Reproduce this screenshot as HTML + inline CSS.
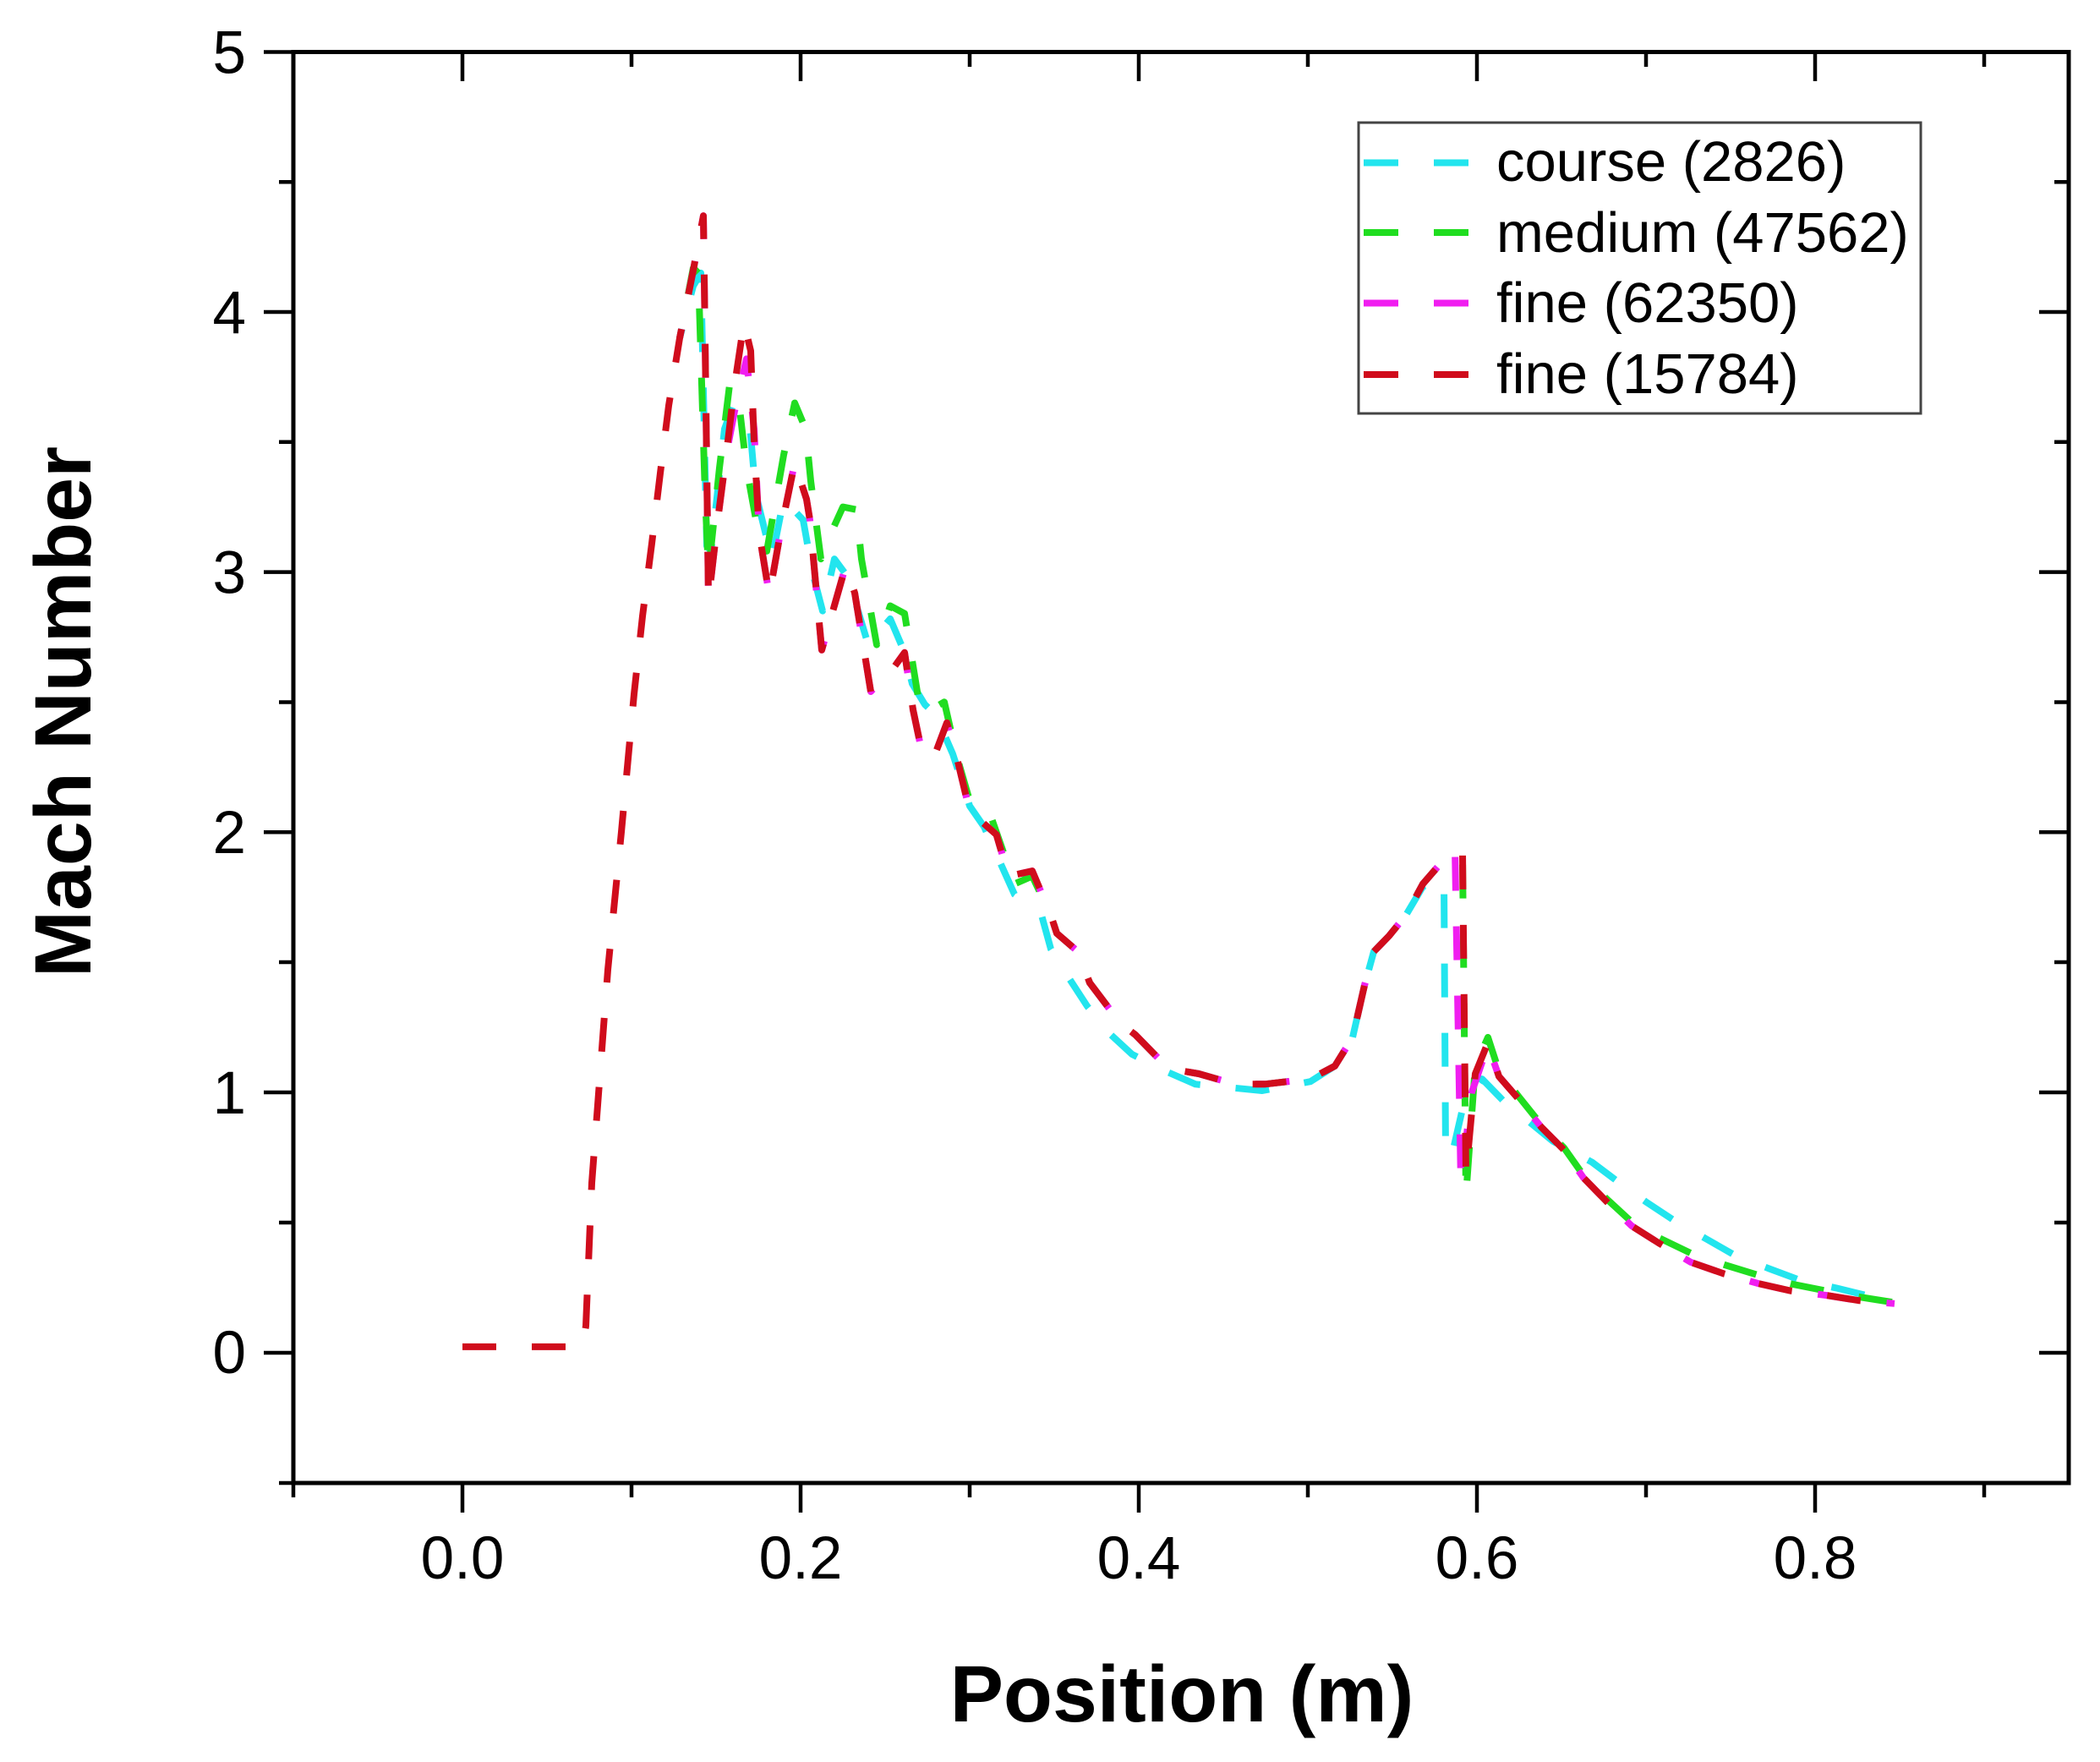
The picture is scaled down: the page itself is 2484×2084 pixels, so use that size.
<!DOCTYPE html>
<html>
<head>
<meta charset="utf-8">
<style>
  html, body { margin: 0; padding: 0; background: #ffffff; }
  svg { display: block; }
  text { font-family: "Liberation Sans", Arial, sans-serif; fill: #000; }
</style>
</head>
<body>
<svg width="2484" height="2084" viewBox="0 0 2484 2084" xmlns="http://www.w3.org/2000/svg">
  <rect x="0" y="0" width="2484" height="2084" fill="#ffffff"/>

  <g fill="none" stroke-width="8" stroke-dasharray="40 42" stroke-linejoin="round">
    <polyline stroke="#22e5ee" stroke-dashoffset="29.1" points="804,399.8 820,338.3 829,322.9 836,645.8 841,651.9 857,507.4 867,479.7 887,504.3 894,584.3 913,661.1 927,590.4 950,615 961,676.5 973,722.6 987,661.1 1003,682.7 1027,762.6 1053,731.9 1070,771.8 1079,808.7 1094,833.3 1107,845.6 1127,891.8 1147,953.3 1164,977.9 1200,1057.8 1232,1082.4 1243,1122.4 1264,1156.2 1286,1190 1314,1223.9 1339,1246.9 1378.6,1266.9 1414,1282.3 1461,1286.9 1493,1290 1550,1279.2 1579,1260.8 1600,1226.9 1614,1165.4 1625,1125.5 1643,1107 1663,1082.4 1683,1048.6 1708,1039.4 1710,1368.4 1719,1359.2 1731,1306.9 1753,1276.1 1780,1303.8 1807,1325.3 1837,1349.9 1883,1374.5 1917,1400.1 1948,1422.2 1983,1445.3 2018,1465.2 2053,1485.2 2093,1500.6 2132,1515.1 2172,1523.4 2212,1533.2 2227,1536"/>
    <polyline stroke="#20dd20" stroke-dashoffset="29.1" points="804,399.8 820,316.8 826,322.9 834,584.3 838,676.5 851,553.5 863,455.1 873,467.4 883,553.5 897,630.4 907,651.9 927,538.1 940,476.6 953,507.4 959,568.9 971,661.1 983,630.4 997,599.6 1013,602.7 1019,661.1 1037,762.6 1053,716.5 1070,725.7 1077,768.8 1087,830.3 1095,842.6 1117,830.3 1131,891.8 1147,947.1 1171,962.5 1200,1045.5 1221,1036.3 1243,1082.4 1250,1103.9 1275,1125.5 1289,1162.4 1325,1210 1343,1223.9 1382,1263.8 1418,1270 1461,1282.3 1496,1282.3 1550,1276.1 1579,1260.8 1600,1226.9 1614,1165.4 1625,1125.5 1643,1107 1663,1082.4 1683,1045.5 1707,1017.8 1730,1014.8 1734,1414.5 1745,1260.8 1760,1226.9 1773,1266.9 1797,1297.7 1823,1330 1850,1357.6 1873,1390 1900,1417.6 1930,1445.3 1961.6,1463.7 2000,1482.2 2040,1496 2080,1508.3 2118,1518.4 2160,1526.7 2198,1533.8 2241,1540.6"/>
    <polyline stroke="#f01ef0" stroke-dashoffset="29.1" points="804,399.8 820,319.8 832,255.2 834,399.8 838,710.3 849,615 859,538.1 869,485.9 883,424.4 892,507.4 898,630.4 910,704.2 923,630.4 940,547.4 954,590.4 958,615 972,768.8 1000,670.4 1011,701.1 1030,818 1056.6,790.3 1070,771.8 1080,839.5 1091,891.8 1105,894.8 1120,854.9 1133,900.9 1147,959.4 1178.6,987.1 1193,1036.3 1221,1030.1 1243,1082.4 1250,1103.9 1275,1125.5 1289,1162.4 1325,1210 1343,1223.9 1382,1263.8 1418,1270 1461,1282.3 1496,1282.3 1550,1276.1 1579,1260.8 1600,1226.9 1614,1165.4 1625,1125.5 1643,1107 1663,1082.4 1683,1045.5 1707,1017.8 1721,1002.5 1728,1399.1 1741,1291.5 1760,1236.2 1773,1273.1 1797,1300.7 1823,1333 1850,1360.1 1873,1393 1900,1420.7 1930,1449.9 1961.6,1469.9 2000,1492.9 2040,1506.8 2080,1518.1 2118,1526.7 2160,1532 2198,1538.1 2241,1541.8"/>
    <polyline stroke="#d00c1c" points="547,1592.9 689,1592.9 693,1568.3 700,1399.1 707,1306.9 719,1147 735,984 750,821 760,728.8 771,642.7 781,559.7 791,479.7 804,399.8 820,319.8 832,255.2 834,399.8 838,710.3 849,615 859,538.1 869,455.1 880,381.3 888,415.1 892,522.8 898,630.4 910,704.2 923,630.4 940,547.4 954,590.4 958,615 972,768.8 1000,670.4 1011,701.1 1030,818 1056.6,790.3 1070,771.8 1080,839.5 1091,891.8 1105,894.8 1120,854.9 1133,900.9 1147,959.4 1178.6,987.1 1193,1036.3 1221,1030.1 1243,1082.4 1250,1103.9 1275,1125.5 1289,1162.4 1325,1210 1343,1223.9 1382,1263.8 1418,1270 1461,1282.3 1496,1282.3 1550,1276.1 1579,1260.8 1600,1226.9 1614,1165.4 1625,1125.5 1643,1107 1663,1082.4 1683,1045.5 1707,1017.8 1730,1008.6 1734,1389.9 1745,1270 1760,1233.1 1773,1273.1 1797,1300.7 1823,1333 1850,1360.1 1873,1393 1900,1420.7 1930,1449.9 1961.6,1469.9 2000,1492.9 2040,1506.8 2080,1518.1 2118,1526.7 2160,1532 2198,1538.1 2241,1541.8"/>
  </g>

  <rect x="347" y="61.5" width="2100" height="1692.5" fill="none" stroke="#000" stroke-width="5"/>

  <path fill="none" stroke="#000" stroke-width="4.5" d="M547 1754v35M947 1754v35M1347 1754v35M1747 1754v35M2147 1754v35 M347 1754v17M747 1754v17M1147 1754v17M1547 1754v17M1947 1754v17M2347 1754v17 M547 61.5v34.5M947 61.5v34.5M1347 61.5v34.5M1747 61.5v34.5M2147 61.5v34.5 M747 61.5v17.5M1147 61.5v17.5M1547 61.5v17.5M1947 61.5v17.5M2347 61.5v17.5 M347 1600h-35M347 1292h-35M347 984.3h-35M347 676.6h-35M347 369h-35M347 61.5h-35 M347 1754h-17M347 1446h-17M347 1138h-17M347 830.5h-17M347 522.8h-17M347 215.3h-17 M2447 1600h-35M2447 1292h-35M2447 984.3h-35M2447 676.6h-35M2447 369h-35 M2447 1446h-17M2447 1138h-17M2447 830.5h-17M2447 522.8h-17M2447 215.3h-17"/>

  <g font-size="71" text-anchor="end">
    <text x="291" y="1624">0</text>
    <text x="291" y="1317">1</text>
    <text x="291" y="1009">2</text>
    <text x="291" y="701.5">3</text>
    <text x="291" y="394">4</text>
    <text x="291" y="86.5">5</text>
  </g>

  <g font-size="71" text-anchor="middle">
    <text x="547" y="1867">0.0</text>
    <text x="947" y="1867">0.2</text>
    <text x="1347" y="1867">0.4</text>
    <text x="1747" y="1867">0.6</text>
    <text x="2147" y="1867">0.8</text>
  </g>

  <text x="1398" y="2036" font-size="95" font-weight="bold" text-anchor="middle">Position (m)</text>
  <text transform="translate(107,842) rotate(-90)" font-size="95" font-weight="bold" text-anchor="middle">Mach Number</text>

  <rect x="1607" y="145" width="665" height="344" fill="#ffffff" stroke="#444" stroke-width="3"/>
  <g stroke-width="8" stroke-dasharray="41 42">
    <line x1="1613" y1="192.5" x2="1737" y2="192.5" stroke="#22e5ee"/>
    <line x1="1613" y1="275" x2="1737" y2="275" stroke="#20dd20"/>
    <line x1="1613" y1="358.5" x2="1737" y2="358.5" stroke="#f01ef0"/>
    <line x1="1613" y1="443" x2="1737" y2="443" stroke="#d00c1c"/>
  </g>
  <g font-size="67">
    <text x="1770" y="214">course (2826)</text>
    <text x="1770" y="298">medium (47562)</text>
    <text x="1770" y="381">fine (62350)</text>
    <text x="1770" y="465">fine (15784)</text>
  </g>
</svg>
</body>
</html>
